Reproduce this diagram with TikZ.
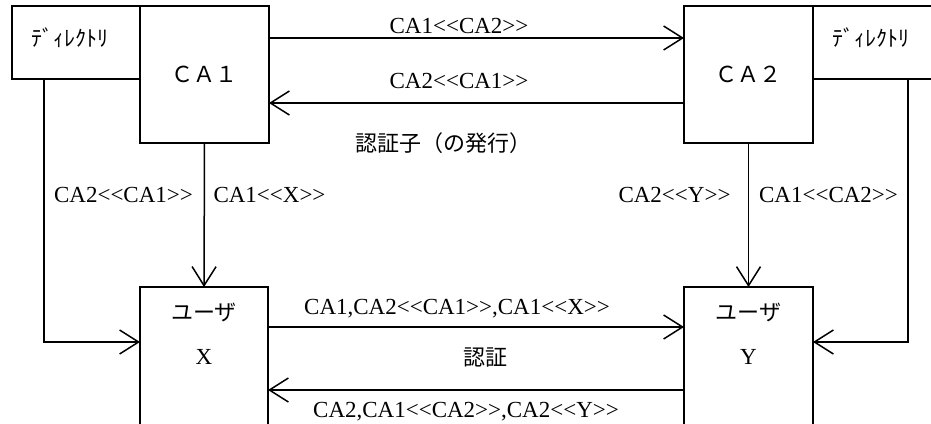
\documentclass[tikz,border=0pt]{standalone}
\usepackage{fontspec}
\setmainfont{Liberation Serif}
\newfontfamily\jp{Noto Sans CJK JP}
\usetikzlibrary{arrows.meta}
\begin{document}
\begin{tikzpicture}[x=1pt,y=-1pt,
  box/.style={draw,line width=1.8pt,inner sep=0pt,outer sep=0pt},
  conn/.style={line width=1.5pt,-{Straight Barb[length=19pt,width=24pt]}},
  lbl/.style={inner sep=0pt,font=\fontsize{23}{27}\selectfont},
  jlbl/.style={inner sep=0pt,font=\fontsize{22}{26}\selectfont\jp}]
\clip (0,0) rectangle (931,423);
% boxes
\node[box,minimum width=128pt,minimum height=73pt] (dirL) at (76,42.5) {};
\node[box,minimum width=129pt,minimum height=137pt,jlbl] (CA1) at (204.5,74.5) {ＣＡ１};
\node[box,minimum width=129pt,minimum height=137pt,jlbl] (CA2) at (748.5,74.5) {ＣＡ２};
\node[box,minimum width=140pt,minimum height=73pt] (dirR) at (883,42.5) {};
\node[box,minimum width=128pt,minimum height=145pt] (UX) at (204,359.5) {};
\node[box,minimum width=129pt,minimum height=145pt] (UY) at (748.5,359.5) {};
% box texts
\node[jlbl] (tdirL) at (70,38) {ﾃﾞｨﾚｸﾄﾘ};
\node[jlbl] (tdirR) at (871,38) {ﾃﾞｨﾚｸﾄﾘ};
\node[jlbl] (tUX1) at (204,312) {ユーザ};
\node[lbl] (tUX2) at (204,357) {X};
\node[jlbl] (tUY1) at (748.5,312) {ユーザ};
\node[lbl] (tUY2) at (748.5,357) {Y};
% connectors
\draw[conn] (CA1.east |- 0,38) -- (CA2.west |- 0,38);
\draw[conn] (CA2.west |- 0,103) -- (CA1.east |- 0,103);
\draw[conn] (CA1.south) -- (UX.north);
\draw[conn] (CA2.south) -- (UY.north);
\draw[conn] (dirL.south -| 44,0) |- (UX.west |- 0,342);
\draw[conn] (dirR.south -| 908,0) |- (UY.east |- 0,342);
\draw[conn] (UX.east |- 0,327) -- (UY.west |- 0,327);
\draw[conn] (UY.west |- 0,390) -- (UX.east |- 0,390);
% labels
\node[lbl,anchor=base] (l1) at (459,33) {CA1<{}<CA2>{}>};
\node[lbl,anchor=base] (l2) at (459,88) {CA2<{}<CA1>{}>};
\node[jlbl] (l3) at (443,143) {認証子（の発行）};
\node[lbl,anchor=base] (l4) at (123.5,202) {CA2<{}<CA1>{}>};
\node[lbl,anchor=base] (l5) at (269.5,202) {CA1<{}<X>{}>};
\node[lbl,anchor=base] (l6) at (674.5,202) {CA2<{}<Y>{}>};
\node[lbl,anchor=base] (l7) at (828.5,202) {CA1<{}<CA2>{}>};
\node[lbl,anchor=base] (l8) at (457,314) {CA1,CA2<{}<CA1>{}>,CA1<{}<X>{}>};
\node[jlbl] (l9) at (485,358) {認証};
\node[lbl,anchor=base] (l10) at (466,417) {CA2,CA1<{}<CA2>{}>,CA2<{}<Y>{}>};
\end{tikzpicture}
\end{document}
